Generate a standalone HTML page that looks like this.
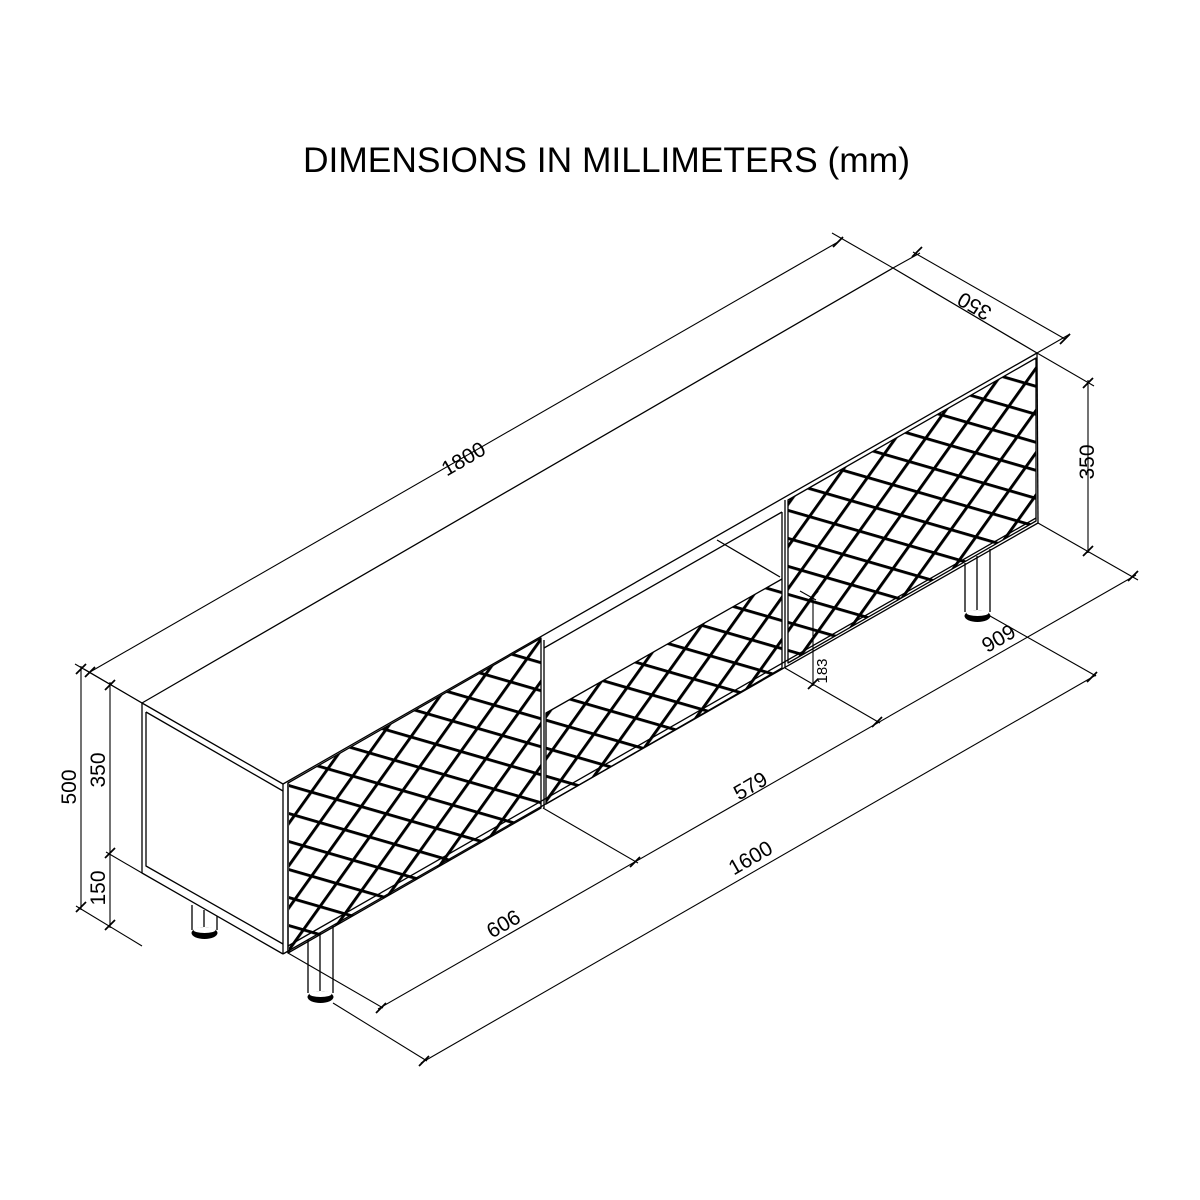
<!DOCTYPE html>
<html><head><meta charset="utf-8"><style>
html,body{margin:0;padding:0;background:#fff;}
svg{display:block;}
text{font-family:"Liberation Sans",sans-serif;fill:#000;}
</style></head><body>
<svg width="1200" height="1200" viewBox="0 0 1200 1200" xmlns="http://www.w3.org/2000/svg">
<defs>
<pattern id="lat" patternUnits="userSpaceOnUse" width="26" height="28.5" patternTransform="matrix(0.961 0.279 -0.581 0.814 0 0)">
<rect x="0" y="0" width="26" height="3.1" fill="#000"/>
<rect x="0" y="0" width="3.1" height="28.5" fill="#000"/>
</pattern>
<clipPath id="c1"><polygon points="289,783 541,638 541,808 289,953"/></clipPath>
<clipPath id="c2"><polygon points="546,713 782,579 782,668 546,804"/></clipPath>
<clipPath id="c3"><polygon points="788,500 1036,358 1036,521 788,663"/></clipPath>
</defs>

<text x="303" y="172" font-size="35" textLength="607" lengthAdjust="spacingAndGlyphs">DIMENSIONS IN MILLIMETERS (mm)</text>

<!-- lattice -->
<rect x="280" y="630" width="270" height="330" fill="url(#lat)" clip-path="url(#c1)"/>
<rect x="540" y="570" width="250" height="240" fill="url(#lat)" clip-path="url(#c2)"/>
<rect x="780" y="350" width="260" height="320" fill="url(#lat)" clip-path="url(#c3)"/>

<g fill="none" stroke="#000" stroke-width="1.3" stroke-linejoin="round">
<polygon points="142,703 893,268 1037,353 283,784"/>
<polyline points="142,703 142,873 283,954"/>
<polyline points="146,712 146,866 283,944"/>
<line x1="146" y1="712" x2="283" y2="791"/>
<line x1="283" y1="784" x2="283" y2="954"/>
<line x1="288" y1="783" x2="288" y2="953"/>
<line x1="1037" y1="353" x2="1038" y2="523"/>
<line x1="283" y1="954" x2="1038" y2="523"/>
<line x1="288" y1="946" x2="1036" y2="518"/>
<polygon points="288,783 541,638 541,808 288,953"/>
<line x1="544" y1="640" x2="544" y2="808"/>
<polygon points="546,713 782,579 782,668 546,804"/>
<line x1="785" y1="500" x2="785" y2="668"/>
<polygon points="788,500 1036,358 1036,521 788,663"/>
<line x1="544" y1="648" x2="782" y2="512"/>
<line x1="717" y1="540" x2="780" y2="577"/>
<line x1="782" y1="512" x2="782" y2="579"/>
<path d="M192,905 V930 M217,916 V930 M204,910 V930"/>
<path d="M308,940 V993 M333,926 V993 M320,933 V993"/>
<path d="M965,563 V612 M990,549 V612 M977,556 V612"/>
</g>
<g fill="#000">
<ellipse cx="204.5" cy="933" rx="13" ry="6"/>
<ellipse cx="320.5" cy="997" rx="13" ry="6"/>
<ellipse cx="977.5" cy="616" rx="13" ry="6"/>
</g>
<g fill="#fff">
<ellipse cx="204.5" cy="930" rx="11" ry="3"/>
<ellipse cx="320.5" cy="994" rx="11" ry="3"/>
<ellipse cx="977.5" cy="613" rx="11" ry="3"/>
</g>

<g fill="none" stroke="#000" stroke-width="1.1">
<line x1="142" y1="703" x2="84" y2="669"/>
<line x1="893" y1="268" x2="832" y2="233"/>
<line x1="90" y1="672" x2="838" y2="242"/>
<line x1="893" y1="268" x2="920" y2="253"/>
<line x1="1037" y1="353" x2="1070" y2="334"/>
<line x1="913" y1="252" x2="1065" y2="339"/>
<line x1="1037" y1="353" x2="1094" y2="386"/>
<line x1="1038" y1="523" x2="1138" y2="580"/>
<line x1="1088" y1="380" x2="1088" y2="553"/>
<line x1="142" y1="703" x2="75" y2="664"/>
<line x1="142" y1="873" x2="106" y2="852"/>
<line x1="142" y1="946" x2="76" y2="906"/>
<line x1="81" y1="666" x2="81" y2="910"/>
<line x1="110" y1="682" x2="110" y2="928"/>
<line x1="785" y1="668" x2="880" y2="723"/>
<line x1="800" y1="591" x2="816" y2="600"/>
<line x1="813" y1="594" x2="813" y2="686"/>
<line x1="288" y1="953" x2="383" y2="1008"/>
<line x1="543" y1="808" x2="638" y2="863"/>
<line x1="378" y1="1009" x2="1136" y2="575"/>
<line x1="333" y1="1003" x2="427" y2="1061"/>
<line x1="990" y1="616" x2="1096" y2="676"/>
<line x1="421" y1="1063" x2="1096" y2="675"/>
</g>
<g stroke="#000" stroke-width="1.8">
<line x1="85" y1="677" x2="95" y2="667"/>
<line x1="833" y1="247" x2="843" y2="237"/>
<line x1="912" y1="257" x2="922" y2="247"/>
<line x1="1060" y1="344" x2="1070" y2="334"/>
<line x1="1083" y1="388" x2="1093" y2="378"/>
<line x1="1083" y1="556" x2="1093" y2="546"/>
<line x1="76" y1="674" x2="86" y2="664"/>
<line x1="76" y1="912" x2="86" y2="902"/>
<line x1="105" y1="690" x2="115" y2="680"/>
<line x1="105" y1="858" x2="115" y2="848"/>
<line x1="105" y1="930" x2="115" y2="920"/>
<line x1="808" y1="601" x2="818" y2="591"/>
<line x1="808" y1="689" x2="818" y2="679"/>
<line x1="376" y1="1013" x2="386" y2="1003"/>
<line x1="630" y1="867" x2="640" y2="857"/>
<line x1="872" y1="727" x2="882" y2="717"/>
<line x1="1128" y1="581" x2="1138" y2="571"/>
<line x1="419" y1="1066" x2="429" y2="1056"/>
<line x1="1087" y1="682" x2="1097" y2="672"/>
</g>

<g font-size="21">
<text transform="translate(467,465) rotate(-30)" text-anchor="middle">1800</text>
<text transform="translate(978,300) rotate(210)" text-anchor="middle">350</text>
<text transform="translate(1094,462) rotate(-90)" text-anchor="middle">350</text>
<text transform="translate(76,787) rotate(-90)" text-anchor="middle">500</text>
<text transform="translate(105,770) rotate(-90)" text-anchor="middle">350</text>
<text transform="translate(105,888) rotate(-90)" text-anchor="middle">150</text>
<text transform="translate(507,930) rotate(-30)" text-anchor="middle">606</text>
<text transform="translate(754,792) rotate(-30)" text-anchor="middle">579</text>
<text transform="translate(754,864) rotate(-30)" text-anchor="middle">1600</text>
<text transform="translate(995,632) rotate(150)" text-anchor="middle">606</text>
<text transform="translate(827,671) rotate(-90)" text-anchor="middle" font-size="15">183</text>
</g>
</svg>
</body></html>
